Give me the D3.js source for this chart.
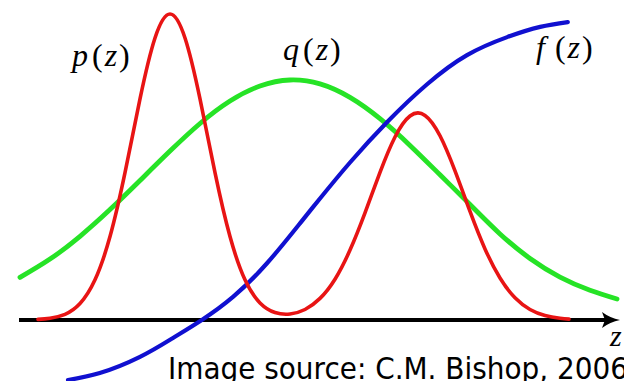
<!DOCTYPE html>
<html>
<head>
<meta charset="utf-8">
<script src="https://cdn.jsdelivr.net/npm/d3@7"></script>
<style>
  html, body { margin: 0; padding: 0; background: #fff; }
  svg { display: block; }
</style>
</head>
<body>
<svg id="chart" width="624" height="381"></svg>
<script>
// ---- data (z on a 0..10 axis, values 0..1) ----
const redZ   = [0.3, 0.5, 0.75, 1.0, 1.25, 1.5, 1.75, 2.0, 2.25, 2.5, 2.75, 3.0, 3.25, 3.5, 3.75, 4.0, 4.25, 4.5, 4.75, 5.0, 5.25, 5.5, 5.75, 6.0, 6.25, 6.5, 6.75, 7.0, 7.25, 7.5, 7.75, 8.0, 8.25, 8.5, 8.75, 9.0, 9.15];
const redP   = [0.002, 0.006, 0.019, 0.055, 0.134, 0.278, 0.491, 0.737, 0.940, 1.02, 0.940, 0.737, 0.491, 0.278, 0.134, 0.057, 0.025, 0.020, 0.035, 0.072, 0.136, 0.233, 0.357, 0.492, 0.610, 0.680, 0.682, 0.614, 0.497, 0.362, 0.237, 0.140, 0.074, 0.035, 0.015, 0.006, 0.003];

const greenZ = [0, 0.5, 1.0, 1.5, 2.0, 2.5, 3.0, 3.5, 4.0, 4.5, 5.0, 5.5, 6.0, 6.5, 7.0, 7.5, 8.0, 8.5, 9.0, 9.5, 9.95];
const greenQ = [0.142, 0.203, 0.279, 0.368, 0.465, 0.563, 0.655, 0.730, 0.780, 0.800, 0.787, 0.742, 0.671, 0.582, 0.484, 0.385, 0.287, 0.205, 0.143, 0.099, 0.070];

const blueZ  = [0.8, 1.33, 2.0, 2.55, 3.03, 3.55, 4.12, 4.67, 5.0, 5.5, 6.12, 6.78, 7.45, 8.12, 8.67, 9.13];
const blueF  = [-0.2, -0.177, -0.123, -0.06, 0, 0.077, 0.19, 0.323, 0.405, 0.525, 0.66, 0.785, 0.883, 0.943, 0.977, 0.993];

const curveLabels = ["p", "q", "f"];
const axisLabel = "z";
const sourceText = "Image source: C.M. Bishop, 2006";

// ---- drawing ----
const svg = d3.select("#chart");
const x = d3.scaleLinear().domain([0, 10]).range([20, 620]);
const y = d3.scaleLinear().domain([0, 1]).range([320, 20]);

const line = d3.line()
  .x(d => x(d[0]))
  .y(d => y(d[1]))
  .curve(d3.curveNatural);

const series = [
  { z: greenZ, v: greenQ, color: "#26e326", width: 4.8 },
  { z: blueZ,  v: blueF,  color: "#1010d0", width: 4.2 },
  { z: redZ,   v: redP,   color: "#e81414", width: 3.6 }
];

// axis line with arrow
const axisY = y(0);
svg.append("line")
  .attr("x1", x(0) - 1).attr("x2", x(10) - 12)
  .attr("y1", axisY).attr("y2", axisY)
  .attr("stroke", "#000").attr("stroke-width", 4);
const tip = x(10);
svg.append("path")
  .attr("d", `M${tip},${axisY} Q${tip-10},${axisY-2} ${tip-18},${axisY-8} L${tip-15},${axisY} L${tip-18},${axisY+8} Q${tip-10},${axisY+2} ${tip},${axisY} Z`)
  .attr("fill", "#000");

series.forEach(s => {
  svg.append("path")
    .datum(s.z.map((z, i) => [z, s.v[i]]))
    .attr("d", line)
    .attr("fill", "none")
    .attr("stroke", s.color)
    .attr("stroke-width", s.width)
    .attr("stroke-linecap", "round")
    .attr("stroke-linejoin", "round");
});

// math labels  name(z)
function mathLabel(name, px, py, gap) {
  const t = svg.append("text")
    .attr("x", px).attr("y", py)
    .attr("font-family", "'Liberation Serif', 'DejaVu Serif', serif")
    .attr("font-size", 32)
    .attr("fill", "#000");
  t.append("tspan").attr("font-style", "italic").text(name);
  t.append("tspan").attr("dx", gap).text("(");
  t.append("tspan").attr("dx", 2).attr("font-style", "italic").text("z");
  t.append("tspan").attr("dx", 2).text(")");
}
mathLabel(curveLabels[0], 72, 66, 4);
mathLabel(curveLabels[1], 283, 60, 4);
mathLabel(curveLabels[2], 536, 58, 10);

svg.append("text")
  .attr("x", 610).attr("y", 346)
  .attr("font-family", "'Liberation Serif', serif")
  .attr("font-style", "italic")
  .attr("font-size", 30)
  .text(axisLabel);

svg.append("text")
  .attr("x", 168).attr("y", 379)
  .attr("font-family", "'DejaVu Sans', sans-serif")
  .attr("font-size", 30)
  .attr("textLength", 460)
  .attr("lengthAdjust", "spacingAndGlyphs")
  .attr("fill", "#000")
  .text(sourceText);
</script>
</body>
</html>
